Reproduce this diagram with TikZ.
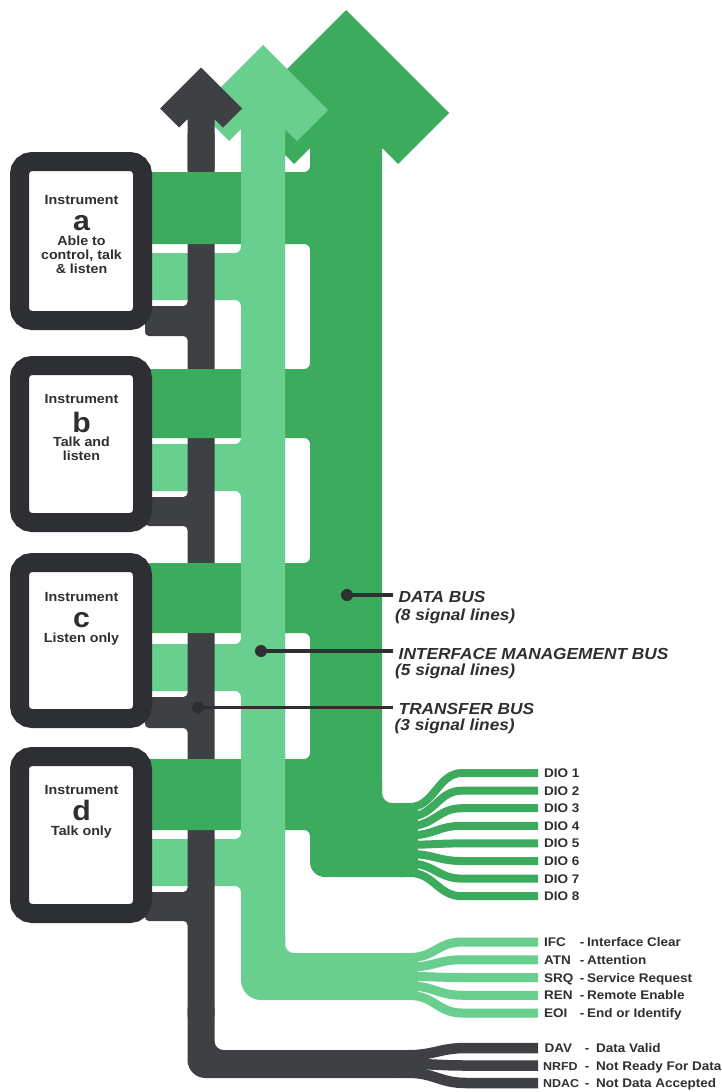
\documentclass[tikz,border=0pt]{standalone}
\usepackage{fontspec}
\newfontfamily\lab{Liberation Sans}[FakeStretch=1.08]
\definecolor{dg}{RGB}{60,171,94}
\definecolor{lg}{RGB}{104,207,143}
\definecolor{gy}{RGB}{62,64,68}
\definecolor{bx}{RGB}{46,47,50}
\begin{document}
\begin{tikzpicture}[x=1pt,y=-1pt,
  box/.style={draw=bx, line width=19pt, fill=white, rounded corners=12.5pt, minimum width=123pt, inner sep=0pt},
  itxt/.style={anchor=base, inner sep=0pt, font=\lab\bfseries\fontsize{13.2}{15}\selectfont, text=bx},
  big/.style={anchor=base, inner sep=0pt, font=\lab\bfseries\fontsize{28}{28}\selectfont, text=bx},
  sig/.style={anchor=base west, inner sep=0pt, font=\lab\bfseries\fontsize{12.5}{14}\selectfont, text=bx},
  dsh/.style={anchor=base, inner sep=0pt, font=\lab\bfseries\fontsize{12.5}{14}\selectfont, text=bx},
  buslab/.style={anchor=base west, inner sep=0pt, font=\lab\bfseries\itshape\fontsize{16}{18}\selectfont, text=bx},
  dot/.style={circle, fill=bx, inner sep=0pt, minimum size=12pt},
  leader/.style={draw=bx, line width=3.2pt},
  dgfan/.style={draw=dg, line width=8pt, line cap=butt},
  lgfan/.style={draw=lg, line width=9pt, line cap=butt},
  gyfan/.style={draw=gy, line width=10.5pt, line cap=butt}
]
\useasboundingbox (0,0) rectangle (721,1092);
\fill[white] (0,0) rectangle (721,1092);

% ---------- light green (management bus), lower layer ----------
\fill[lg, rounded corners=6pt] (241,130) -- (285,130) -- (285,965) -- (241,965)
  -- (241,886) -- (145,886) -- (145,839) -- (241,839)
  -- (241,691) -- (145,691) -- (145,644) -- (241,644)
  -- (241,491) -- (145,491) -- (145,444) -- (241,444)
  -- (241,300) -- (145,300) -- (145,253) -- (241,253) -- cycle;
\fill[lg] (241,930) [rounded corners=20pt] -- (241,1000) -- (418,1000) -- (418,953)
  [rounded corners=9pt] -- (285,953) -- (285,930) -- cycle;
\fill[lg] (300,953) rectangle (418,1000);
\foreach \r/\y in {957.5/942, 967/959.75, 976.5/977.5, 986/995.25, 995.5/1013}
  \draw[lgfan] (400,\r) -- (410,\r) .. controls (434,\r) and (438,\y) .. (462,\y) -- (538,\y);

% ---------- dark gray (transfer bus) ----------
\fill[gy, rounded corners=4pt] (187.5,130) -- (214.5,130) -- (214.5,1020) -- (187.5,1020)
  -- (187.5,921) -- (145,921) -- (145,892) -- (187.5,892)
  -- (187.5,728) -- (145,728) -- (145,697) -- (187.5,697)
  -- (187.5,526) -- (145,526) -- (145,497) -- (187.5,497)
  -- (187.5,336) -- (145,336) -- (145,306) -- (187.5,306) -- cycle;
\fill[gy] (187.5,1000) [rounded corners=18pt] -- (187.5,1078) -- (415,1078) -- (415,1050)
  [rounded corners=9pt] -- (214.5,1050) -- (214.5,1000) -- cycle;
\fill[gy] (230,1050) rectangle (415,1078);
\foreach \r/\y in {1055.25/1048, 1064/1065.5, 1072.75/1083}
  \draw[gyfan] (398,\r) -- (408,\r) .. controls (434,\r) and (440,\y) .. (466,\y) -- (538,\y);

% ---------- dark green (data bus) ----------
\fill[dg, rounded corners=6pt] (310,150) -- (382,150) -- (382,850) -- (310,850)
  -- (310,830) -- (145,830) -- (145,759) -- (310,759)
  -- (310,633) -- (145,633) -- (145,563) -- (310,563)
  -- (310,438) -- (145,438) -- (145,369) -- (310,369)
  -- (310,244) -- (145,244) -- (145,172) -- (310,172) -- cycle;
\fill[dg] (310,770) [rounded corners=15pt] -- (310,877) -- (418,877) -- (418,803)
  [rounded corners=10pt] -- (382,803) -- (382,770) -- cycle;
\fill[dg] (396,803) rectangle (418,877);
\foreach \r/\y in {807/773, 816.4/790.6, 825.9/808.2, 835.3/825.8, 844.7/843.4, 854.1/861, 863.6/878.6, 873/896.2}
  \draw[dgfan] (400,\r) -- (410,\r) .. controls (434,\r) and (438,\y) .. (462,\y) -- (538,\y);
\fill[dg] (346,10) -- (449,113) -- (398,164) -- (382,148) -- (382,160) -- (310,160)
  -- (310,148) -- (294,164) -- (243,113) -- cycle;

% ---------- light green shaft and head, upper layer ----------
\fill[lg] (263,45) -- (328,110) -- (296.9,141.1) -- (285,129.2) -- (285,945) -- (241,945)
  -- (241,129.2) -- (229.1,141.1) -- (198,110) -- cycle;

% ---------- dark gray head ----------
\fill[gy] (201,67.5) -- (242,108.5) -- (222.9,127.6) -- (214.5,119.2) -- (214.5,170)
  -- (187.5,170) -- (187.5,119.2) -- (179.1,127.6) -- (160,108.5) -- cycle;

% ---------- instruments ----------
\node[box, minimum height=159pt] (boxa) at (81,241) {};
\node[box, minimum height=157pt] (boxb) at (81,444) {};
\node[box, minimum height=156pt] (boxc) at (81,640.5) {};
\node[box, minimum height=157pt] (boxd) at (81,835) {};

\node[itxt] (ta1) at (81.5,204) {Instrument};
\node[big]  (ta2) at (81.5,230) {a};
\node[itxt] (ta3) at (81.5,245) {Able to};
\node[itxt] (ta4) at (81.5,259) {control, talk};
\node[itxt] (ta5) at (81.5,273) {\& listen};

\node[itxt] (tb1) at (81.5,403) {Instrument};
\node[big]  (tb2) at (81.5,432) {b};
\node[itxt] (tb3) at (81.5,446) {Talk and};
\node[itxt] (tb4) at (81.5,460) {listen};

\node[itxt] (tc1) at (81.5,601) {Instrument};
\node[big]  (tc2) at (81.5,627) {c};
\node[itxt] (tc3) at (81.5,642) {Listen only};

\node[itxt] (td1) at (81.5,794) {Instrument};
\node[big]  (td2) at (81.5,820) {d};
\node[itxt] (td3) at (81.5,835) {Talk only};

% ---------- bus labels ----------
\node[dot] (dd) at (347,595) {};
\node[dot] (di) at (261,651) {};
\node[dot] (dt) at (198,707.5) {};
\coordinate (ed) at (393,595);
\coordinate (ei) at (393,651);
\coordinate (et) at (393,707.5);
\draw[leader] (dd.center) -- (ed);
\draw[leader] (di.center) -- (ei);
\draw[leader] (dt.center) -- (et);
\node[buslab] (ld1) at (398.5,602) {DATA BUS};
\node[buslab] (ld2) at (395,620) {(8 signal lines)};
\node[buslab] (li1) at (398.5,659) {INTERFACE MANAGEMENT BUS};
\node[buslab] (li2) at (395,675) {(5 signal lines)};
\node[buslab] (lt1) at (398.5,714) {TRANSFER BUS};
\node[buslab] (lt2) at (394.5,730) {(3 signal lines)};

% ---------- signal labels ----------
\node[sig] (dio1) at (544,777.5) {DIO 1};
\node[sig] (dio2) at (544,795.1) {DIO 2};
\node[sig] (dio3) at (544,812.7) {DIO 3};
\node[sig] (dio4) at (544,830.3) {DIO 4};
\node[sig] (dio5) at (544,847.9) {DIO 5};
\node[sig] (dio6) at (544,865.5) {DIO 6};
\node[sig] (dio7) at (544,883.1) {DIO 7};
\node[sig] (dio8) at (544,900.7) {DIO 8};

\node[sig] (ifc) at (544,946.5) {IFC};   \node[dsh] (ifcd) at (582,946.5) {-};  \node[sig] (ifct) at (587,946.5) {Interface Clear};
\node[sig] (atn) at (544,964.25) {ATN};  \node[dsh] (atnd) at (582,964.25) {-}; \node[sig] (atnt) at (587,964.25) {Attention};
\node[sig] (srq) at (544,982) {SRQ};     \node[dsh] (srqd) at (582,982) {-};    \node[sig] (srqt) at (587,982) {Service Request};
\node[sig] (ren) at (544,999.75) {REN};  \node[dsh] (rend) at (582,999.75) {-}; \node[sig] (rent) at (587,999.75) {Remote Enable};
\node[sig] (eoi) at (544,1017.5) {EOI};  \node[dsh] (eoid) at (582,1017.5) {-}; \node[sig] (eoit) at (587,1017.5) {End or Identify};

\node[sig] (dav) at (544.5,1052.5) {DAV};   \node[dsh] (davd) at (587,1052.5) {-}; \node[sig] (davt) at (596,1052.5) {Data Valid};
\node[sig, font=\lab\bfseries\fontsize{11.5}{14}\selectfont] (nrfd) at (543,1070) {NRFD};   \node[dsh] (nrfdd) at (587,1070) {-};  \node[sig] (nrfdt) at (596,1070) {Not Ready For Data};
\node[sig, font=\lab\bfseries\fontsize{11.5}{14}\selectfont] (ndac) at (543,1087.5) {NDAC}; \node[dsh] (ndacd) at (587,1087.5) {-}; \node[sig] (ndact) at (596,1087.5) {Not Data Accepted};
\end{tikzpicture}
\end{document}
